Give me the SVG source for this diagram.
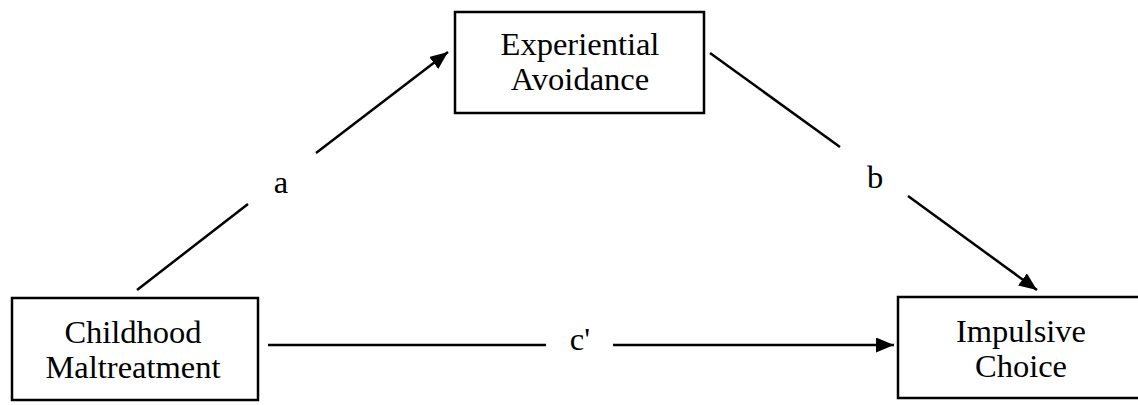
<svg xmlns="http://www.w3.org/2000/svg" width="1138" height="405" viewBox="0 0 1138 405">
<style>
.box{fill:#fff;stroke:#000;stroke-width:2.5}
.t{font-family:"Liberation Serif","Times New Roman",serif;font-size:32.5px;fill:#000;text-anchor:middle}
.ln{stroke:#000;stroke-width:2.5;fill:none}
</style>
<defs>
<marker id="ah" markerUnits="userSpaceOnUse" markerWidth="19" markerHeight="15" refX="18" refY="7.5" orient="auto">
<path d="M0,0 L18,7.5 L0,15 z" fill="#000"/>
</marker>
</defs>
<rect width="1138" height="405" fill="#fff"/>
<g id="connectors">
<line class="ln" x1="137" y1="290" x2="248" y2="204"/>
<line class="ln" x1="316" y1="153" x2="448" y2="52" marker-end="url(#ah)"/>
<line class="ln" x1="710" y1="53" x2="840" y2="147"/>
<line class="ln" x1="908" y1="196" x2="1037" y2="290" marker-end="url(#ah)"/>
<line class="ln" x1="268" y1="345" x2="546" y2="345"/>
<line class="ln" x1="613" y1="345" x2="894" y2="345" marker-end="url(#ah)"/>
<text class="t" x="281" y="193">a</text>
<text class="t" x="875" y="188">b</text>
<text class="t" x="580" y="350">c'</text>
</g>
<g id="experiential">
<rect class="box" x="455" y="12" width="249" height="101"/>
<text class="t" x="580" y="55">Experiential</text>
<text class="t" x="580" y="90">Avoidance</text>
</g>
<g id="childhood">
<rect class="box" x="12" y="298" width="246" height="102"/>
<text class="t" x="133" y="343">Childhood</text>
<text class="t" x="133" y="378">Maltreatment</text>
</g>
<g id="impulsive">
<rect class="box" x="898" y="297" width="247" height="101"/>
<text class="t" x="1021" y="342">Impulsive</text>
<text class="t" x="1021" y="377">Choice</text>
</g>
</svg>
